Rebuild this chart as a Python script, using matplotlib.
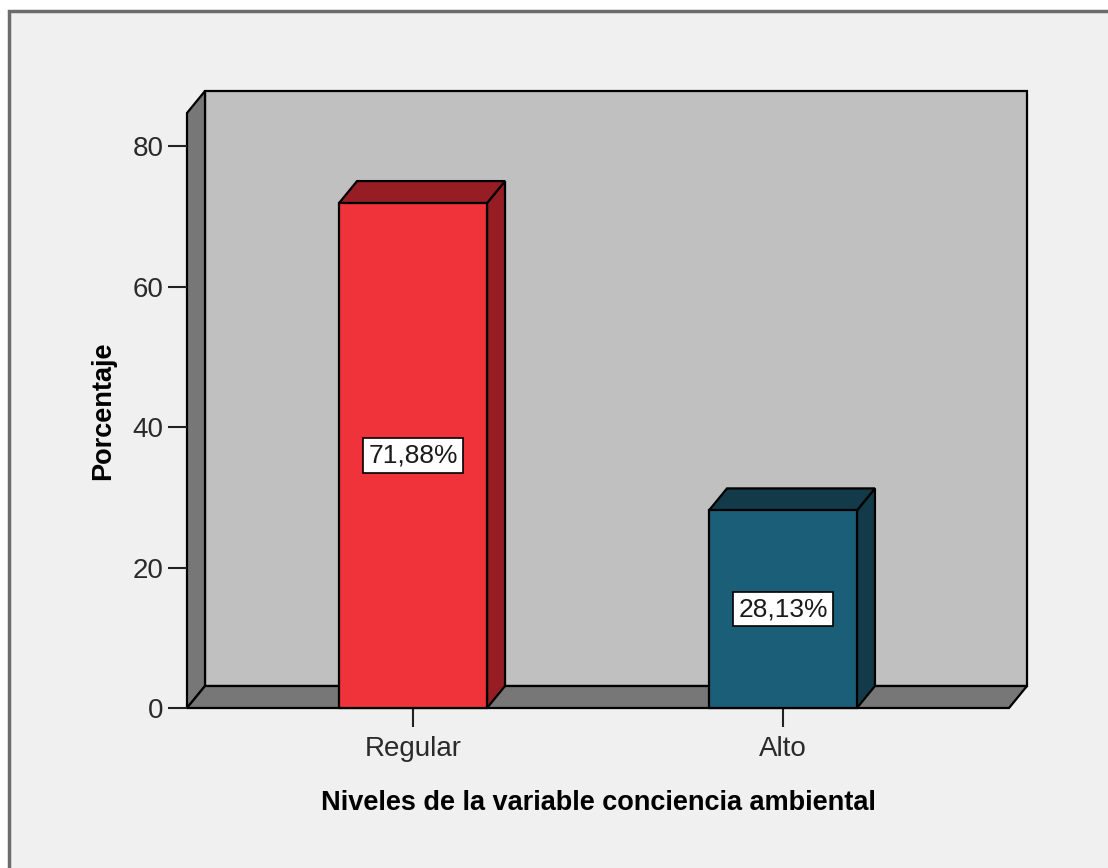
import matplotlib.pyplot as plt
from matplotlib.patches import Polygon, Rectangle

# niveles y porcentajes
niveles = ["Regular", "Alto"]
porcentajes = [71.88, 28.13]
etiquetas = ["71,88%", "28,13%"]
y_ticks = [0, 20, 40, 60, 80]

caras = ["#f0323a", "#1b5e77"]
sombras = ["#961d23", "#133a48"]

plt.rcParams["font.family"] = ["Liberation Sans", "DejaVu Sans"]

W, H = 1108, 868
fig = plt.figure(figsize=(W / 100, H / 100), dpi=100, facecolor="white")

# fondo gris del grafico con su marco
fig.patches.append(Rectangle((9 / W, -0.1), 1.2, (H - 11) / H + 0.1,
                             transform=fig.transFigure, facecolor="#f0f0f0",
                             edgecolor="#6c6c6c", linewidth=2.5, zorder=-10))

ax = fig.add_axes([187 / W, (H - 708) / H, 822 / W, 595 / H])
x0, x1 = -0.611, 1.611
ymax = 84.7
ax.set_xlim(x0, x1)
ax.set_ylim(0, ymax)
ax.patch.set_visible(False)
for s in ax.spines.values():
    s.set_visible(False)

# profundidad del efecto 3D en unidades de datos
dx = 18 / 370
dy = 3.13
ancho = 0.4

def poly(pts, fc, z=1):
    ax.add_patch(Polygon(pts, closed=True, facecolor=fc, edgecolor="black",
                         linewidth=1.6, clip_on=False, zorder=z,
                         joinstyle="miter"))

# pared trasera, pared lateral y piso
poly([(x0 + dx, dy), (x1 + dx, dy), (x1 + dx, ymax + dy), (x0 + dx, ymax + dy)], "#c0c0c0")
poly([(x0, 0), (x0 + dx, dy), (x0 + dx, ymax + dy), (x0, ymax)], "#777777")
poly([(x0, 0), (x1, 0), (x1 + dx, dy), (x0 + dx, dy)], "#777777")

for i, (v, lab) in enumerate(zip(porcentajes, etiquetas)):
    xl, xr = i - ancho / 2, i + ancho / 2
    poly([(xr, 0), (xr + dx, dy), (xr + dx, v + dy), (xr, v)], sombras[i], 3)
    poly([(xl, v), (xl + dx, v + dy), (xr + dx, v + dy), (xr, v)], sombras[i], 3)
    poly([(xl, 0), (xr, 0), (xr, v), (xl, v)], caras[i], 4)
    ax.text(i, v / 2, lab, ha="center", va="center", fontsize=19, zorder=5,
            color="#1a1a1a",
            bbox=dict(boxstyle="square,pad=0.2", facecolor="white",
                      edgecolor="black", linewidth=1.2))

ax.set_yticks(y_ticks)
ax.set_xticks(range(len(niveles)))
ax.set_xticklabels(niveles)
ax.tick_params(axis="both", length=14, width=1.5, color="#222222",
               labelsize=20, labelcolor="#2a2a2a", pad=3)
ax.tick_params(axis="x", pad=6)

ax.set_xlabel("Niveles de la variable conciencia ambiental", fontsize=19.5,
              fontweight="bold", labelpad=20)
ax.set_ylabel("Porcentaje", fontsize=19.5, fontweight="bold", labelpad=12)

fig.savefig("out.png", dpi=100, facecolor=fig.get_facecolor())
